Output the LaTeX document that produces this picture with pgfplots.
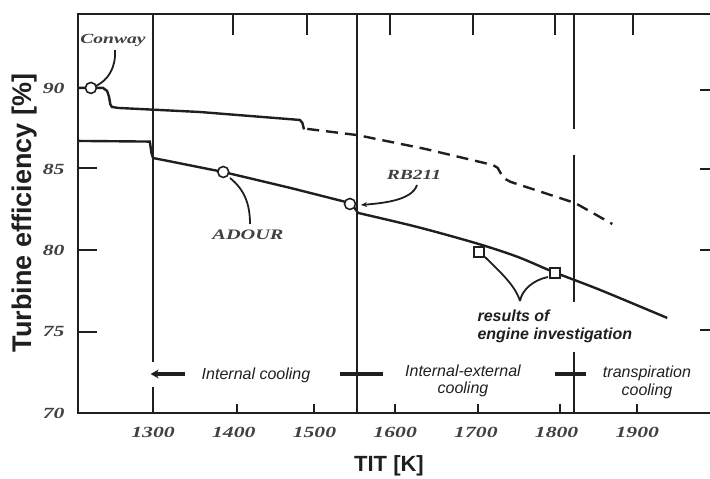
\documentclass[border=0pt]{standalone}
\usepackage{pgfplots}
\pgfplotsset{compat=1.18}
\usepackage{fontspec}
\setmainfont{Liberation Sans}
\newfontfamily\tickfont[FakeStretch=1.4]{Liberation Serif}
\usetikzlibrary{arrows.meta}
\definecolor{ink}{gray}{0.12}
\definecolor{tickgray}{gray}{0.25}
\begin{document}
\begin{tikzpicture}
\begin{axis}[
  at={(0pt,0pt)}, anchor=south west,
  scale only axis, width=636pt, height=399pt,
  xmin=1207, xmax=1995, ymin=70, ymax=94.55,
  xtick={1300,1400,1500,1600,1700,1800,1900},
  ytick={70,75,80,85,90},
  xtick pos=left, ytick pos=left,
  tick align=inside,
  axis line style={line width=2.6pt, ink},
  xtick style={draw=none},
  ytick style={draw=none},
  /pgf/number format/assume math mode=true,
  /pgf/number format/1000 sep={},
  tick label style={font=\tickfont\bfseries\itshape\fontsize{15.5}{15.5}\selectfont, text=tickgray},
  xticklabel style={yshift=-11pt},
  yticklabel style={xshift=-10pt},
  every axis x label/.style={at={(axis description cs:0.489,-0.133)}, anchor=center},
  every axis y label/.style={at={(axis description cs:-0.0834,0.501)}, anchor=center, rotate=90},
  xlabel={TIT [K]}, ylabel={Turbine efficiency [\%]},
  xlabel style={font=\bfseries\fontsize{22}{24}\selectfont, text=ink},
  ylabel style={font=\bfseries\fontsize{27}{29}\selectfont, text=ink},
  clip=false,
]
% region boundaries
\draw[line width=2pt, ink] (axis cs:1300,94.55) -- (axis cs:1300,73.14);
\draw[line width=2pt, ink] (axis cs:1300,71.6) -- (axis cs:1300,70);
\draw[line width=2pt, ink] (axis cs:1553,94.55) -- (axis cs:1553,70);
\draw[line width=2pt, ink] (axis cs:1822,94.55) -- (axis cs:1822,87.5);
\draw[line width=2pt, ink] (axis cs:1822,85.9) -- (axis cs:1822,76.8);
\draw[line width=2pt, ink] (axis cs:1822,73.75) -- (axis cs:1822,70);
% region arrows
\draw[line width=3.4pt, ink, -{Stealth[length=8pt,width=9pt]}] (axis cs:1339,72.4) -- (axis cs:1297,72.4);
\draw[line width=3.6pt, ink] (axis cs:1532,72.4) -- (axis cs:1585,72.4);
\draw[line width=3.6pt, ink] (axis cs:1798,72.4) -- (axis cs:1836,72.4);

% upper solid curve (Conway)
\addplot[line width=2.4pt, ink] coordinates {
 (1207,90.0) (1238,90.0) (1243,89.82) (1245.5,89.45) (1247,89.0) (1249,88.83)
 (1257,88.77) (1358,88.52) (1482,88.03) (1485,87.85) (1487,87.45)};
% dashed continuation
\addplot[line width=2.4pt, ink, dash pattern=on 12pt off 7pt] coordinates {
 (1491,87.48) (1553,87.1) (1637,86.25) (1721,85.26) (1727,85.08) (1734,84.46)
 (1743,84.22) (1823,82.92) (1869,81.63)};
% lower curve, before RB211 step
\addplot[line width=2.4pt, ink] coordinates {
 (1207,86.74) (1296,86.70) (1298,86.0) (1300,85.69) (1387,84.83) (1470,83.85)
 (1544,82.92) (1547,82.8) (1554,82.31)};
% lower curve, after RB211 step
\addplot[line width=2.4pt, ink, smooth, tension=0.5] coordinates {
 (1554,82.31) (1627,81.45) (1700,80.45) (1751,79.62)
 (1796,78.68) (1854,77.57) (1937,75.85)};
% engine markers
\addplot[only marks, mark=*, mark size=5.5pt,
  mark options={fill=white, draw=ink, line width=1.6pt}] coordinates {
 (1223,90.0) (1387,84.83) (1544,82.86)};
% results of engine investigation
\addplot[only marks, mark=square*, mark size=5pt,
  mark options={fill=white, draw=ink, line width=1.6pt}] coordinates {
 (1704,79.91) (1798,78.6)};
\end{axis}

\begin{scope}[x=1pt, y=-1pt, shift={(-78pt,413pt)}]
 % frame details and ticks
 \draw[line width=2.8pt, black!88] (76.7,14) -- (712,14);
 \foreach \t in {233,307,390,473,555,633} \draw[line width=2pt, black!88] (\t,14) -- (\t,35);
 \foreach \t in {237,314,395,478,560,637} \draw[line width=2pt, black!88] (\t,413) -- (\t,404);
 \foreach \t in {168,250,332} \draw[line width=2pt, black!88] (78,\t) -- (97,\t);
 \foreach \t in {90,169,250,330} \draw[line width=2pt, black!88] (700,\t) -- (712,\t);
 % annotations
 \node[font=\tickfont\bfseries\itshape\fontsize{14}{14}\selectfont, text=tickgray] at (113,40) {Conway};
 \draw[line width=1.8pt, ink] (115,50) .. controls (116,68) and (108,80) .. (96,86);
 \node[font=\tickfont\bfseries\itshape\fontsize{14.5}{14}\selectfont, text=tickgray] at (248,235) {ADOUR};
 \draw[line width=1.8pt, ink] (230,178) .. controls (245,190) and (250,205) .. (250,224);
 \node[font=\tickfont\bfseries\itshape\fontsize{14}{14}\selectfont, text=tickgray] at (414,175) {RB211};
 \draw[line width=1.8pt, ink, -{Stealth[length=6pt,width=5pt]}] (417,185) .. controls (412,200) and (385,203) .. (361,205);
 \draw[line width=1.8pt, ink] (485,257) .. controls (500,272) and (515,285) .. (520,301);
 \draw[line width=1.8pt, ink] (548,277) .. controls (533,280) and (522,290) .. (520,301);
 \node[anchor=west, align=left, font=\bfseries\itshape\fontsize{16}{18}\selectfont, text=ink] at (474,326) {results of\\engine investigation};
 \node[font=\itshape\fontsize{16}{17}\selectfont, text=ink] at (256,375) {Internal cooling};
 \node[align=center, font=\itshape\fontsize{16}{17}\selectfont, text=ink] at (463,380.5) {Internal-external\\cooling};
 \node[align=center, font=\itshape\fontsize{16}{18}\selectfont, text=ink] at (647,382) {transpiration\\cooling};
\end{scope}
\pgfresetboundingbox
\path[use as bounding box] (-78pt,-66pt) rectangle (632pt,413pt);
\end{tikzpicture}
\end{document}
